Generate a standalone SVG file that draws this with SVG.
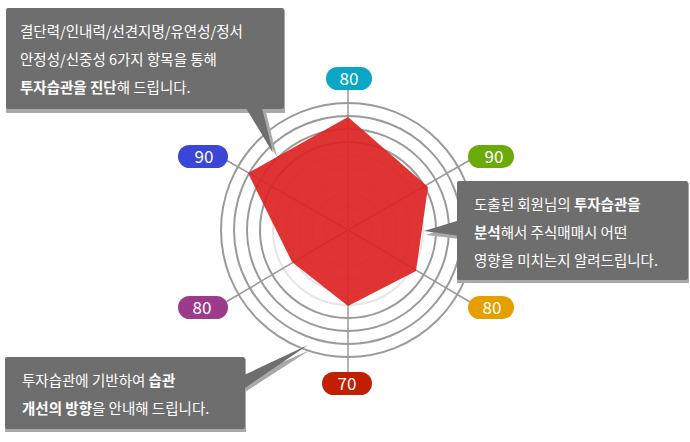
<svg xmlns="http://www.w3.org/2000/svg" width="690" height="442" viewBox="0 0 690 442">
<style>
text{font-family:"Noto Sans CJK KR","Noto Sans",sans-serif;}
.c{fill:none;stroke:#9a9a9a;stroke-width:2}
.f{fill:none;stroke:#e6e6e6;stroke-width:2}
.ax{stroke:#9a9a9a;stroke-width:1.5}
.p{fill:#fff;font-size:17px;text-anchor:middle}
.t{fill:#fff;font-size:14.5px}
.b{font-weight:bold}
.box{fill:#6e6e6e}
.sh{fill:#a9a9a9}
</style>
<rect width="690" height="442" fill="#fff"/>
<g id="grid">
<circle class="c" cx="348" cy="230" r="127"/>
<circle class="c" cx="348" cy="230" r="114"/>
<circle class="c" cx="348" cy="230" r="101"/>
<circle class="c" cx="348" cy="230" r="88"/>
<circle class="f" cx="348" cy="230" r="75"/>
<circle class="f" cx="348" cy="230" r="62"/>
<circle class="f" cx="348" cy="230" r="49"/>
<circle class="f" cx="348" cy="230" r="36"/>
<circle class="f" cx="348" cy="230" r="23"/>
<circle class="f" cx="348" cy="230" r="10"/>
</g>
<g id="connectors">
<line class="ax" x1="348" y1="230" x2="348" y2="90"/>
<line class="ax" x1="348" y1="230" x2="348" y2="372"/>
<line class="ax" x1="348" y1="230" x2="470" y2="160"/>
<line class="ax" x1="348" y1="230" x2="470" y2="302"/>
<line class="ax" x1="348" y1="230" x2="226" y2="160"/>
<line class="ax" x1="348" y1="230" x2="226" y2="302"/>
</g>
<g id="data"><polygon points="348,117 428,187 416,271 348,306 292,262 248,173" fill="#dd2222" fill-opacity="0.92"/></g>
<g id="label-top"><rect x="326" y="67" width="46" height="23" rx="11.5" fill="#0aa7c4"/><text class="p" x="349" y="85">80</text></g>
<g id="label-ur"><rect x="468" y="145" width="46" height="23" rx="11.5" fill="#6aaa0a"/><text class="p" x="494" y="163">90</text></g>
<g id="label-lr"><rect x="468" y="296" width="46" height="23" rx="11.5" fill="#e5a000"/><text class="p" x="492" y="314">80</text></g>
<g id="label-bottom"><rect x="322" y="372" width="50" height="23" rx="11.5" fill="#c21e00"/><text class="p" x="347" y="390">70</text></g>
<g id="label-ll"><rect x="178" y="296" width="50" height="23" rx="11.5" fill="#9c3a8c"/><text class="p" x="202" y="314">80</text></g>
<g id="label-ul"><rect x="178" y="145" width="50" height="23" rx="11.5" fill="#3b45d8"/><text class="p" x="204" y="163">90</text></g>
<g id="callout-top">
<polygon class="sh" points="250,112 266,112 277,157"/>
<rect class="sh" x="6" y="10" width="279" height="103"/>
<polygon class="box" points="246,108 262,108 273,153"/>
<rect class="box" x="6" y="8" width="278" height="101" rx="2"/>
<text class="t" x="20" y="37">결단력/인내력/선견지명/유연성/정서</text>
<text class="t" x="20" y="65">안정성/신중성 6가지 항목을 통해</text>
<text class="t" x="20" y="93"><tspan class="b">투자습관을 진단</tspan>해 드립니다.</text>
</g>
<g id="callout-right">
<polygon class="sh" points="460,223 460,239 426,235"/>
<rect class="sh" x="457" y="183" width="232" height="100"/>
<polygon class="box" points="460,220 460,236 424,231"/>
<rect class="box" x="457" y="181" width="231" height="99" rx="2"/>
<text class="t" x="474" y="210">도출된 회원님의 <tspan class="b">투자습관을</tspan></text>
<text class="t" x="474" y="238"><tspan class="b">분석</tspan>해서 주식매매시 어떤</text>
<text class="t" x="474" y="266">영향을 미치는지 알려드립니다.</text>
</g>
<g id="callout-bottom">
<polygon class="sh" points="242,380 242,394 310,350"/>
<rect class="sh" x="5" y="359" width="241" height="73"/>
<polygon class="box" points="242,376 242,390 308,345"/>
<rect class="box" x="5" y="357" width="240" height="72" rx="2"/>
<text class="t" x="22" y="386">투자습관에 기반하여  <tspan class="b">습관</tspan></text>
<text class="t" x="22" y="414"><tspan class="b">개선의 방향</tspan>을 안내해 드립니다.</text>
</g>
</svg>
